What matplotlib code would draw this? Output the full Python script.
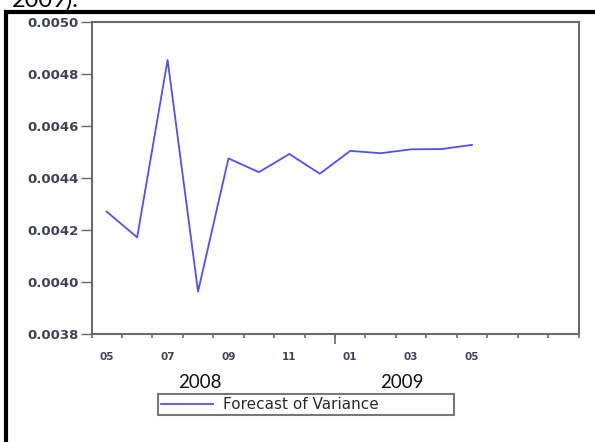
import matplotlib
matplotlib.use("Agg")
import matplotlib.pyplot as plt
from matplotlib.lines import Line2D
from matplotlib.transforms import blended_transform_factory

# Monthly forecast of the conditional variance, May 2008 - May 2009
months = ["2008-05", "2008-06", "2008-07", "2008-08", "2008-09", "2008-10",
          "2008-11", "2008-12", "2009-01", "2009-02", "2009-03", "2009-04",
          "2009-05"]
variance = [0.004271, 0.004172, 0.004855, 0.003963, 0.004476, 0.004423,
            0.004493, 0.004417, 0.004505, 0.004496, 0.004511, 0.004512,
            0.004528]

month_labels = ["05", "07", "09", "11", "01", "03", "05"]
year_labels = ["2008", "2009"]
y_ticks = [0.0038, 0.0040, 0.0042, 0.0044, 0.0046, 0.0048, 0.0050]
n_months_axis = 16          # May 2008 .. Aug 2009 on the time axis
series_name = "Forecast of Variance"

W, H = 595, 442
fig = plt.figure(figsize=(W / 100, H / 100), dpi=100)
fig.patch.set_facecolor("white")

ax = fig.add_axes([91.5 / W, (H - 334) / H, (578.5 - 91.5) / W, (334 - 22.3) / H])

# each month occupies one unit; observations sit mid-month
x = [i + 0.5 for i in range(len(months))]
line, = ax.plot(x, variance, color="#5050f5", lw=1.3, label=series_name)

ax.set_xlim(0, n_months_axis)
ax.set_ylim(y_ticks[0], y_ticks[-1])

spine_col = "#6a6a6a"
for s in ax.spines.values():
    s.set_color(spine_col)
    s.set_linewidth(1.5)

lab_col = "#3e4456"
ax.set_yticks(y_ticks)
ax.set_yticklabels([f"{v:.4f}" for v in y_ticks])
ax.tick_params(axis="y", direction="out", length=8, width=1.0, color=spine_col,
               pad=1, labelsize=9.5, labelcolor=lab_col)
for t in ax.get_yticklabels():
    t.set_fontweight("bold")

# month labels at mid-month positions, boundary ticks as minor ticks
ax.set_xticks([i + 0.5 for i in range(0, 2 * len(month_labels), 2)])
ax.set_xticklabels(month_labels)
ax.set_xticks(range(n_months_axis + 1), minor=True)
ax.tick_params(axis="x", which="major", length=0, pad=13, labelsize=7.5,
               labelcolor=lab_col)
ax.tick_params(axis="x", which="minor", direction="out", length=3, width=1.2,
               color=spine_col)
for t in ax.get_xticklabels():
    t.set_fontweight("bold")

# longer tick marking the turn of the year
sec = ax.secondary_xaxis("bottom")
sec.set_xticks([8])
sec.set_xticklabels([""])
sec.tick_params(length=7, width=1.2, color=spine_col)
sec.spines["bottom"].set_visible(False)

# year captions under the month labels
tr = blended_transform_factory(ax.transData, fig.transFigure)
for xpos, yl in zip([3.56, 10.19], year_labels):
    ax.text(xpos, (H - 382) / H, yl, transform=tr, ha="center", va="center",
            fontsize=13.5, family=["Lato", "DejaVu Sans"], color="#111111")

leg = fig.legend(handles=[line], loc="lower left",
                 bbox_to_anchor=(150.7 / W, (H - 422.7) / H,
                                 (461.7 - 150.7) / W, (422.7 - 399.3) / H),
                 mode="expand", frameon=True, fancybox=False,
                 borderpad=0.2, handlelength=3.4, handletextpad=0.6,
                 prop={"family": "DejaVu Sans", "size": 11})
leg.get_frame().set_edgecolor("#555555")
leg.get_frame().set_linewidth(1.5)
for txt in leg.get_texts():
    txt.set_color("#2a2a2a")

# black frame surrounding the figure panel
fig.add_artist(Line2D([6 / W, 6 / W], [0, (H - 10) / H], color="black",
                      lw=3.0, transform=fig.transFigure, solid_capstyle="butt"))
fig.add_artist(Line2D([4 / W, 1], [(H - 12) / H, (H - 12) / H], color="black",
                      lw=3.0, transform=fig.transFigure, solid_capstyle="butt"))

# tail of the caption line above the panel
fig.text(12 / W, (H - 7) / H, "2009).", ha="left", va="baseline",
         fontsize=17, family=["Lato", "DejaVu Sans"], color="black")

fig.savefig("out.png", dpi=100)
